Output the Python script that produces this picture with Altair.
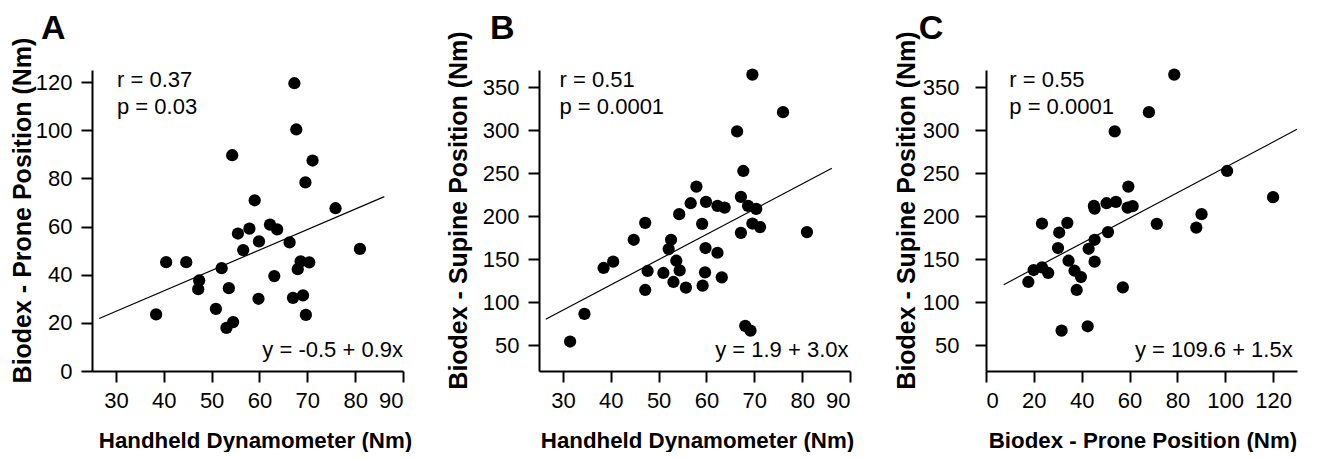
import altair as alt
import pandas as pd

FONT = "Liberation Sans"

# ---------------- data ----------------
# Panel A: Handheld Dynamometer (x) vs Biodex prone (y)
A_x = [67.3, 67.7, 54.3, 71.1, 69.6, 59.0, 75.9, 81.0, 55.5, 57.9, 62.2, 63.7, 59.9,
       66.3, 56.6, 40.5, 44.7, 52.1, 68.6, 70.4, 68.0, 47.4, 47.2, 53.6, 63.1, 59.8,
       67.0, 69.1, 38.4, 50.9, 69.7, 54.5, 53.1]
A_y = [119.5, 100.3, 89.6, 87.4, 78.3, 70.9, 67.6, 50.7, 57.1, 59.1, 60.8, 58.8, 53.8,
       53.4, 50.2, 45.2, 45.2, 42.7, 45.5, 45.1, 42.3, 37.6, 34.0, 34.4, 39.4, 30.0,
       30.4, 31.4, 23.5, 25.8, 23.3, 20.3, 17.9]
A_fit_x = [26.5, 86.1]
A_fit_y = [21.8, 72.4]

# Panel B: Handheld Dynamometer (x) vs Biodex supine (y)
B_x = [69.6, 76.0, 66.4, 67.7, 57.9, 67.2, 56.7, 59.9, 62.3, 63.8, 68.7, 70.4, 54.3,
       47.2, 59.1, 69.6, 71.2, 67.2, 81.0, 44.8, 52.6, 52.1, 59.8, 62.3, 40.5, 38.5,
       53.7, 54.4, 47.7, 51.0, 59.7, 63.2, 53.1, 55.7, 59.2, 47.2, 34.5, 31.5, 68.1, 69.2]
B_y = [364.7, 321.0, 298.6, 252.6, 234.4, 222.4, 215.1, 216.6, 212.0, 210.0, 212.0, 208.5,
       202.4, 192.3, 191.1, 191.5, 187.3, 180.7, 181.5, 172.6, 172.6, 161.8, 163.0, 157.5,
       147.1, 139.8, 148.2, 137.0, 136.3, 134.0, 134.7, 128.9, 123.5, 116.9, 119.2, 114.2,
       86.4, 54.3, 72.5, 67.0]
B_fit_x = [26.4, 86.2]
B_fit_y = [80.2, 255.7]

# Panel C: Biodex prone (x) vs Biodex supine (y)
C_x = [78.7, 68.1, 53.8, 100.8, 59.5, 120.0, 45.1, 45.4, 50.4, 54.3, 59.2, 61.3, 90.1,
       87.9, 71.4, 23.4, 34.0, 30.6, 51.0, 45.4, 42.9, 30.1, 34.5, 45.4, 19.9, 23.4,
       26.0, 37.0, 39.7, 17.7, 37.9, 57.2, 31.6, 42.5]
C_y = [364.7, 321.0, 298.6, 252.6, 234.4, 222.1, 212.0, 208.9, 215.1, 216.6, 210.0, 211.7,
       202.4, 186.8, 191.1, 191.5, 192.3, 181.0, 181.5, 172.6, 162.1, 163.0, 148.2, 147.1,
       137.4, 140.5, 134.0, 136.6, 129.3, 123.5, 114.2, 117.3, 67.0, 72.0]
C_fit_x = [7.4, 130.0]
C_fit_y = [120.4, 301.0]

# axes
A_xdomain, A_ydomain = [25, 90], [0, 125]
B_xdomain, B_ydomain = [25, 90], [20, 370]
C_xdomain, C_ydomain = [0, 130], [20, 370]
A_xticks = [30, 40, 50, 60, 70, 80, 90]
A_yticks = [0, 20, 40, 60, 80, 100, 120]
B_xticks = [30, 40, 50, 60, 70, 80, 90]
B_yticks = [50, 100, 150, 200, 250, 300, 350]
C_xticks = [0, 20, 40, 60, 80, 100, 120]
C_yticks = [50, 100, 150, 200, 250, 300, 350]

x_titles = ["Handheld Dynamometer (Nm)", "Handheld Dynamometer (Nm)", "Biodex - Prone Position (Nm)"]
y_titles = ["Biodex - Prone Position (Nm)", "Biodex - Supine Position (Nm)", "Biodex - Supine Position (Nm)"]
letters = ["A", "B", "C"]
r_texts = ["r = 0.37", "r = 0.51", "r = 0.55"]
p_texts = ["p = 0.03", "p = 0.0001", "p = 0.0001"]
eq_texts = ["y = -0.5 + 0.9x", "y = 1.9 + 3.0x", "y = 109.6 + 1.5x"]

W, H = 311, 301


def text_layer(txt, x, y, size, align="left", weight="normal"):
    return alt.Chart(pd.DataFrame({"t": [txt]})).mark_text(
        font=FONT, fontSize=size, fontWeight=weight, color="black",
        align=align, baseline="alphabetic"
    ).encode(x=alt.value(x), y=alt.value(y), text="t:N")


def panel(i, xs, ys, fx, fy, xdom, ydom, xticks, yticks, lab_pad_y, ytitle_x, xtitle_x,
          letter_x, ann_x, eq_x):
    pts = pd.DataFrame({"x": xs, "y": ys})
    fit = pd.DataFrame({"x": fx, "y": fy})
    xscale = alt.Scale(domain=xdom, nice=False, zero=False)
    yscale = alt.Scale(domain=ydom, nice=False, zero=False)
    xaxis = alt.Axis(values=xticks, title=x_titles[i], labelPadding=8,
                     titleX=xtitle_x, titleY=76, titleBaseline="alphabetic",
                     titleFontSize=22.3)
    yaxis = alt.Axis(values=yticks, title=y_titles[i], labelPadding=lab_pad_y,
                     titleX=ytitle_x, titleY=140, titleBaseline="alphabetic",
                     titleFontSize=25)
    scatter = alt.Chart(pts).mark_circle(size=150, color="black", opacity=1).encode(
        x=alt.X("x:Q", scale=xscale, axis=xaxis),
        y=alt.Y("y:Q", scale=yscale, axis=yaxis),
    )
    line = alt.Chart(fit).mark_line(color="black", strokeWidth=1.2).encode(
        x=alt.X("x:Q", scale=xscale), y=alt.Y("y:Q", scale=yscale)
    )
    return alt.layer(
        line, scatter,
        text_layer(r_texts[i], ann_x, 17.2, 22),
        text_layer(p_texts[i], ann_x, 43.8, 22),
        text_layer(eq_texts[i], eq_x, 286.5, 22, align="right"),
        text_layer(letters[i], letter_x, -31, 34, align="center", weight="bold"),
    ).properties(width=W, height=H)


pA = panel(0, A_x, A_y, A_fit_x, A_fit_y, A_xdomain, A_ydomain, A_xticks, A_yticks,
           9, -61.7, 163, -38.7, 25, 311)
pB = panel(1, B_x, B_y, B_fit_x, B_fit_y, B_xdomain, B_ydomain, B_xticks, B_yticks,
           9, -72.8, 158, -36.8, 20.5, 309.5)
pC = panel(2, C_x, C_y, C_fit_x, C_fit_y, C_xdomain, C_ydomain, C_xticks, C_yticks,
           16, -72, 156.5, -55, 23.3, 306.7)

chart = alt.hconcat(pA, pB, pC, spacing=136, bounds="flush").properties(
    padding={"left": 2, "top": 4, "right": 0, "bottom": 0}
).configure_view(stroke=None).configure_axis(
    grid=False,
    domainColor="black", domainWidth=2,
    tickColor="black", tickWidth=2, tickSize=11,
    labelFont=FONT, labelFontSize=22, labelColor="black",
    titleFont=FONT, titleFontWeight="bold", titleColor="black",
)

chart.save("out.html", embed_options={"renderer": "svg", "actions": False})
